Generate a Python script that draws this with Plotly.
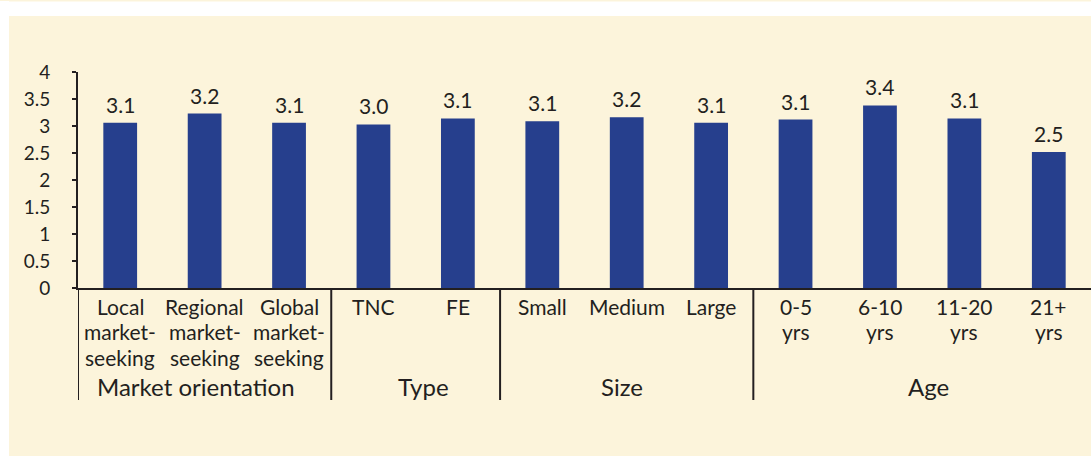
import plotly.graph_objects as go

categories = ["Local market-seeking", "Regional market-seeking", "Global market-seeking",
              "TNC", "FE", "Small", "Medium", "Large",
              "0-5 yrs", "6-10 yrs", "11-20 yrs", "21+ yrs"]
category_lines = [["Local", "market-", "seeking"], ["Regional", "market-", "seeking"],
                  ["Global", "market-", "seeking"], ["TNC"], ["FE"], ["Small"], ["Medium"],
                  ["Large"], ["0-5", "yrs"], ["6-10", "yrs"], ["11-20", "yrs"], ["21+", "yrs"]]
values = [3.06, 3.23, 3.06, 3.03, 3.14, 3.09, 3.16, 3.06, 3.12, 3.38, 3.14, 2.52]
value_labels = ["3.1", "3.2", "3.1", "3.0", "3.1", "3.1", "3.2", "3.1", "3.1", "3.4", "3.1", "2.5"]
groups = ["Market orientation", "Type", "Size", "Age"]
group_centers = [0.9, 3.59, 5.95, 9.57]
group_boundaries = [-0.5, 2.5, 4.5, 7.5]
y_ticks = [0, 0.5, 1, 1.5, 2, 2.5, 3, 3.5, 4]
y_ticktext = ["0", "0.5", "1", "1.5", "2", "2.5", "3", "3.5", "4"]

FONT = "Lato"
INK = "#231F20"
BAR = "#263F8D"
CREAM = "#FCF4DB"

W, H = 1091, 456
ML, MT, MB = 78, 72, 168
plot_h = H - MT - MB

def py(px):
    """convert pixel row to paper y"""
    return (H - MB - px) / plot_h

fig = go.Figure()
fig.add_trace(go.Bar(x=list(range(len(categories))), y=values, marker_color=BAR,
                     marker_line_width=0, width=0.4, hoverinfo="skip"))

CAT_FS = 21
LINE = 25.4
annotations = []
for i, (v, lab) in enumerate(zip(values, value_labels)):
    annotations.append(dict(x=i, y=v, xref="x", yref="y", text=lab, showarrow=False,
                            yanchor="bottom", yshift=4,
                            font=dict(family=FONT, size=21, color=INK)))
for i, lines in enumerate(category_lines):
    for j, ln in enumerate(lines):
        annotations.append(dict(x=i, y=0, xref="x", yref="paper", text=ln, showarrow=False,
                                yanchor="top", yshift=-(5 + LINE * j), borderpad=0,
                                font=dict(family=FONT, size=CAT_FS, color=INK)))
for g, c in zip(groups, group_centers):
    annotations.append(dict(x=c, y=0, xref="x", yref="paper", text=g, showarrow=False,
                            yanchor="top", yshift=-83, borderpad=0,
                            font=dict(family=FONT, size=24, color=INK)))

shapes = []
# white page margins around the cream panel
shapes.append(dict(type="rect", xref="paper", yref="paper",
                   x0=(0 - ML) / (W - ML), x1=(9 - ML) / (W - ML), y0=py(H), y1=py(1),
                   fillcolor="white", line_width=0, layer="below"))
shapes.append(dict(type="rect", xref="paper", yref="paper",
                   x0=(0 - ML) / (W - ML), x1=1.0, y0=py(16), y1=py(1.5),
                   fillcolor="white", line_width=0, layer="below"))
for b in group_boundaries:
    shapes.append(dict(type="line", xref="x", yref="paper", x0=b, x1=b,
                       y0=0, y1=py(400), line=dict(color=INK, width=2)))

fig.update_layout(
    width=W, height=H,
    margin=dict(l=ML, r=0, t=MT, b=MB, pad=0),
    paper_bgcolor=CREAM, plot_bgcolor=CREAM,
    showlegend=False,
    bargap=0.6,
    annotations=annotations,
    shapes=shapes,
    xaxis=dict(range=[-0.5, len(categories) - 0.5], showticklabels=False, ticks="",
               showgrid=False, zeroline=False, showline=True, linecolor=INK, linewidth=2,
               fixedrange=True),
    yaxis=dict(range=[0, 4], tickvals=y_ticks, ticktext=y_ticktext, ticks="outside",
               ticklen=4, tickwidth=2, tickcolor=INK, showgrid=False, zeroline=False,
               showline=True, linecolor=INK, linewidth=2, ticklabelstandoff=18,
               tickfont=dict(family=FONT, size=19, color=INK), fixedrange=True),
)

fig.write_html("out.html")
